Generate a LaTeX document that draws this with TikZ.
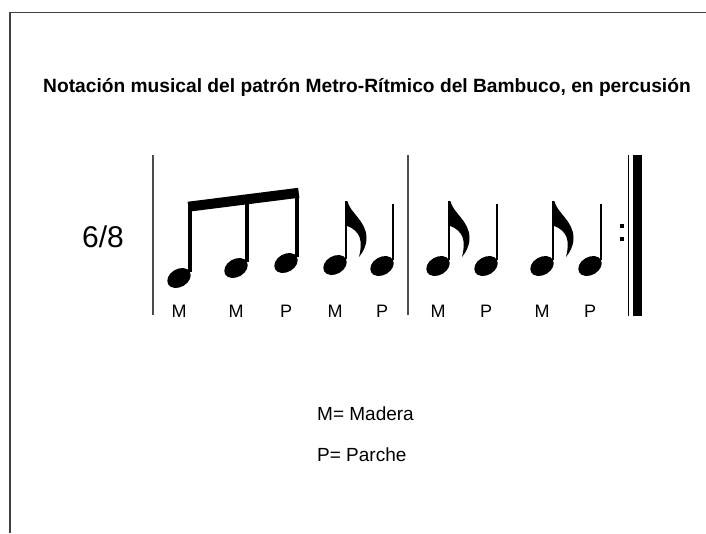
\documentclass[tikz,border=0pt]{standalone}
\usepackage{fontspec}
\setmainfont{Liberation Sans}
\usetikzlibrary{shapes}% for the ellipse

\begin{document}
\begin{tikzpicture}[
  x=1pt, y=-1pt,
  frame/.style={draw=black!75, line width=1.2pt},
  heading/.style={
    anchor=base west, inner sep=0pt,
    font=\fontsize{19.2}{23}\selectfont\bfseries
  },
  meter/.style={anchor=base west, inner sep=0pt, font=\fontsize{30}{36}\selectfont},
  notehead/.style={
    ellipse,
    fill=black,
    inner sep=0pt,
    minimum width=25pt, % the long side of the head
    minimum height=18pt,
    rotate=30
  },
  notestem/.style={line width=2.6pt},
  beamstem/.style={line width=3.5pt},
  notebeam/.style={line width=10pt, shorten <=-1.75pt, shorten >=-1.75pt},
  barline/.style={draw=black!70, line width=2pt},
  thinbar/.style={line width=1.5pt},
  repeatdot/.style={rectangle, fill=black, inner sep=0pt, minimum size=4pt},
  sound/.style={anchor=base, inner sep=0pt, font=\fontsize{18}{22}\selectfont},
  legendtext/.style={anchor=base west, inner sep=0pt, font=\fontsize{19}{23}\selectfont},
  eighthflag/.pic={
    \fill (0,0) -- (1.3,0)
      .. controls (4,12) and (20.5,20) .. (20.5,37)
      .. controls (20.5,45) and (17,51) .. (13,56)
      .. controls (15,48) and (15.5,42) .. (13.5,36)
      .. controls (11.5,31) and (7,27) .. (1.3,25)
      -- (0,25) -- cycle;
  }
]
\useasboundingbox (0,0) rectangle (706,533);

% Frame:
\draw[frame] (706,12.5) -- (10,12.5) -- (10,533);

% Title and time signature:
\node[heading] (title) at (43,92) {Notación musical del patrón Metro-Rítmico del Bambuco, en percusión};
\node[meter] (meter) at (82,247) {6/8};

% Bar lines:
\draw[barline] (153,155) -- (153,315);
\draw[barline] (408,155) -- (408,315);
\draw[thinbar] (628.5,155) -- (628.5,316);
\fill (633,155) rectangle (642,316);
\node[repeatdot] (dotup)   at (622,226) {};
\node[repeatdot] (dotdown) at (622,239) {};

% Note heads:
\node[notehead] (n1) at (179,278) {};
\node[notehead] (n2) at (236,268) {};
\node[notehead] (n3) at (286,263) {};
\node[notehead] (n4) at (335,265) {};
\node[notehead] (n5) at (382,266) {};
\node[notehead] (n6) at (438,266) {};
\node[notehead] (n7) at (486,266) {};
\node[notehead] (n8) at (542,266) {};
\node[notehead] (n9) at (590,266) {};

% Beamed group:
\coordinate (beamL) at (n1.east |- 0,206.5);
\coordinate (beamR) at (n3.east |- 0,193);
\draw[notebeam] (beamL) -- (beamR);
\draw[beamstem] (n1.east) -- (beamL);
\draw[beamstem] (n2.east) -- (n2.east |- 0,200);
\draw[beamstem] (n3.east) -- (beamR);

% Eighths and quarters:
\draw[notestem] (n4.east) -- (n4.east |- 0,201) coordinate (f4);
\pic at (f4) {eighthflag};
\draw[notestem] (n5.east) -- (n5.east |- 0,204);
\draw[notestem] (n6.east) -- (n6.east |- 0,201) coordinate (f6);
\pic at (f6) {eighthflag};
\draw[notestem] (n7.east) -- (n7.east |- 0,204);
\draw[notestem] (n8.east) -- (n8.east |- 0,201) coordinate (f8);
\pic at (f8) {eighthflag};
\draw[notestem] (n9.east) -- (n9.east |- 0,204);

% Strokes under the notes:
\node[sound] (s1) at (n1 |- 0,317) {M};
\node[sound] (s2) at (n2 |- 0,317) {M};
\node[sound] (s3) at (n3 |- 0,317) {P};
\node[sound] (s4) at (n4 |- 0,317) {M};
\node[sound] (s5) at (n5 |- 0,317) {P};
\node[sound] (s6) at (n6 |- 0,317) {M};
\node[sound] (s7) at (n7 |- 0,317) {P};
\node[sound] (s8) at (n8 |- 0,317) {M};
\node[sound] (s9) at (n9 |- 0,317) {P};

% Legend:
\node[legendtext] (leyM) at (317,420.5) {M= Madera};
\node[legendtext] (leyP) at (317,461) {P= Parche};
\end{tikzpicture}
\end{document}
